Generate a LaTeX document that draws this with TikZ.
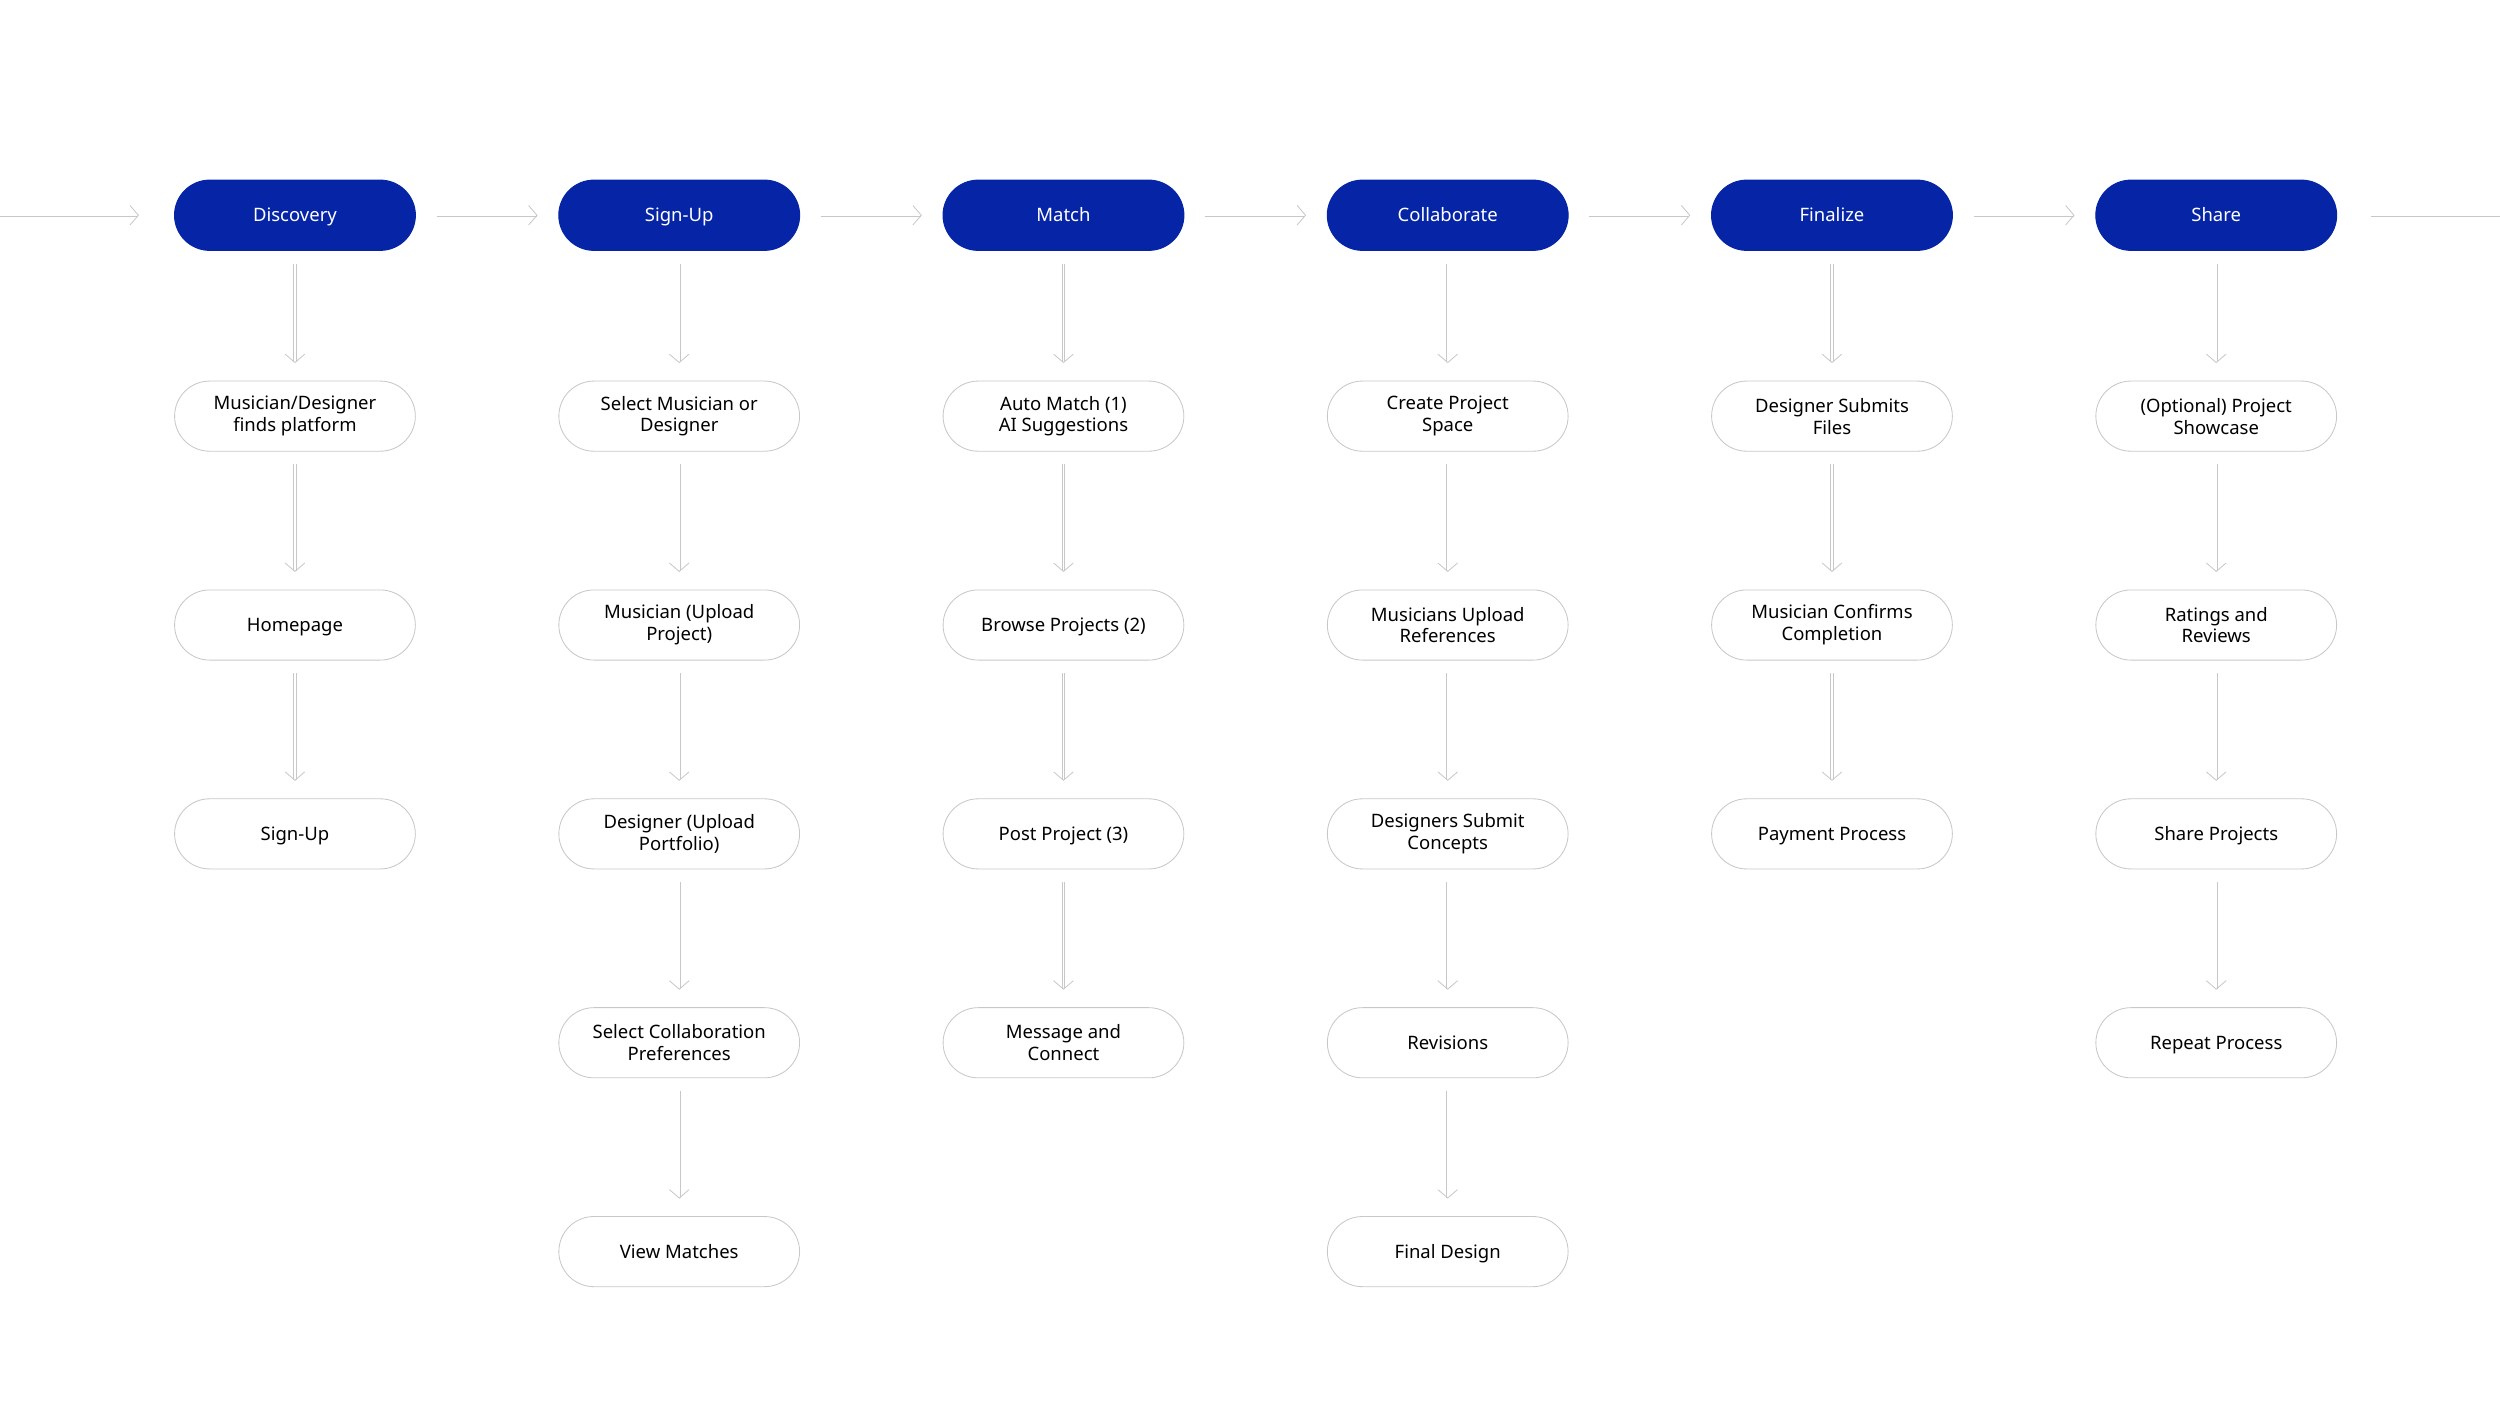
\documentclass[tikz,border=0pt]{standalone}
\usepackage{fontspec}
\setmainfont{Noto Sans}
\usepackage{tikz}
\usetikzlibrary{arrows.meta, positioning}
\definecolor{headblue}{RGB}{5,36,166}
\definecolor{edgegray}{RGB}{200,200,200}
\tikzset{
	phase/.style={rectangle, rounded corners=0.44cm, fill=headblue, draw=headblue, text=white, minimum width=3.02cm, minimum height=0.88cm, inner sep=1pt, text height=0.72em, text depth=0.24em, font=\fontsize{6.6}{7.8}\selectfont},
	stepbox/.style={rectangle, rounded corners=0.44cm, fill=white, draw=edgegray, line width=0.3pt, text=black, minimum width=3.02cm, minimum height=0.88cm, inner sep=1pt, align=center, font=\fontsize{6.6}{7.8}\selectfont},
	oneline/.style={text height=0.72em, text depth=0.24em},
	flow/.style={draw=edgegray, double=white, double distance=0.6pt, line width=0.3pt, -{Straight Barb[length=3pt, width=7pt]}},
	flow_v/.style={flow, shorten <=0.16cm, shorten >=0.22cm},
	flow_h/.style={flow, shorten <=0.26cm, shorten >=0.26cm},
	flow_open/.style={draw=edgegray, double=white, double distance=0.6pt, line width=0.3pt}
}
\begin{document}
\begin{tikzpicture}[on grid, node distance=2.62cm, >=latex]
	\useasboundingbox (0,0) rectangle (31.36,-17.64);
	% phases
	\node[phase] (disc) at (3.7,-2.7) {Discovery};
	\node[phase, right=4.82cm of disc] (signup) {Sign-Up};
	\node[phase, right=4.82cm of signup] (match) {Match};
	\node[phase, right=4.82cm of match] (collab) {Collaborate};
	\node[phase, right=4.82cm of collab] (final) {Finalize};
	\node[phase, right=4.82cm of final] (share) {Share};
	\coordinate (in) at (0,-2.7);
	\coordinate (out) at (31.36,-2.7);
	\draw[flow, shorten >=0.44cm] (in) -- (disc);
	\draw[flow_h] (disc) -- (signup);
	\draw[flow_h] (signup) -- (match);
	\draw[flow_h] (match) -- (collab);
	\draw[flow_h] (collab) -- (final);
	\draw[flow_h] (final) -- (share);
	\draw[flow_open, shorten <=0.42cm] (share.east) -- (out);
	
	% discovery
	\node[stepbox, below=2.52cm of disc] (d1) {Musician/Designer\\finds platform};
	\node[stepbox, oneline, below=of d1] (d2) {Homepage};
	\node[stepbox, oneline, below=of d2] (d3) {Sign-Up};
	\draw[flow_v] (disc) -- (d1);
	\draw[flow_v] (d1) -- (d2);
	\draw[flow_v] (d2) -- (d3);
	
	% sign-up
	\node[stepbox, below=2.52cm of signup] (s1) {Select Musician or\\Designer};
	\node[stepbox, below=of s1] (s2) {Musician (Upload\\Project)};
	\node[stepbox, below=of s2] (s3) {Designer (Upload\\Portfolio)};
	\node[stepbox, below=of s3] (s4) {Select Collaboration\\Preferences};
	\node[stepbox, oneline, below=of s4] (s5) {View Matches};
	\draw[flow_v] (signup) -- (s1);
	\draw[flow_v] (s1) -- (s2);
	\draw[flow_v] (s2) -- (s3);
	\draw[flow_v] (s3) -- (s4);
	\draw[flow_v] (s4) -- (s5);
	
	% match
	\node[stepbox, below=2.52cm of match] (m1) {Auto Match (1)\\AI Suggestions};
	\node[stepbox, oneline, below=of m1] (m2) {Browse Projects (2)};
	\node[stepbox, oneline, below=of m2] (m3) {Post Project (3)};
	\node[stepbox, below=of m3] (m4) {Message and\\Connect};
	\draw[flow_v] (match) -- (m1);
	\draw[flow_v] (m1) -- (m2);
	\draw[flow_v] (m2) -- (m3);
	\draw[flow_v] (m3) -- (m4);
	
	% collaborate
	\node[stepbox, below=2.52cm of collab] (c1) {Create Project\\Space};
	\node[stepbox, below=of c1] (c2) {Musicians Upload\\References};
	\node[stepbox, below=of c2] (c3) {Designers Submit\\Concepts};
	\node[stepbox, oneline, below=of c3] (c4) {Revisions};
	\node[stepbox, oneline, below=of c4] (c5) {Final Design};
	\draw[flow_v] (collab) -- (c1);
	\draw[flow_v] (c1) -- (c2);
	\draw[flow_v] (c2) -- (c3);
	\draw[flow_v] (c3) -- (c4);
	\draw[flow_v] (c4) -- (c5);
	
	% finalize
	\node[stepbox, below=2.52cm of final] (f1) {Designer Submits\\Files};
	\node[stepbox, below=of f1] (f2) {Musician Confirms\\Completion};
	\node[stepbox, oneline, below=of f2] (f3) {Payment Process};
	\draw[flow_v] (final) -- (f1);
	\draw[flow_v] (f1) -- (f2);
	\draw[flow_v] (f2) -- (f3);
	
	% share
	\node[stepbox, below=2.52cm of share] (r1) {(Optional) Project\\Showcase};
	\node[stepbox, below=of r1] (r2) {Ratings and\\Reviews};
	\node[stepbox, oneline, below=of r2] (r3) {Share Projects};
	\node[stepbox, oneline, below=of r3] (r4) {Repeat Process};
	\draw[flow_v] (share) -- (r1);
	\draw[flow_v] (r1) -- (r2);
	\draw[flow_v] (r2) -- (r3);
	\draw[flow_v] (r3) -- (r4);
\end{tikzpicture}
\end{document}
